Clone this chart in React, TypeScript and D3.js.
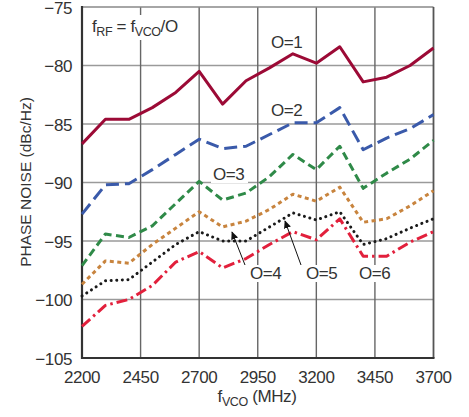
import React from "react";
import * as d3 from "d3";

const freq = [2200, 2300, 2400, 2500, 2600, 2700, 2800, 2900, 3000, 3100, 3200, 3300, 3400, 3500, 3600, 3700];
const o1 = [-86.7, -84.6, -84.6, -83.6, -82.3, -80.5, -83.3, -81.3, -80.2, -79.0, -79.8, -78.4, -81.4, -81.0, -80.0, -78.5];
const o2 = [-92.7, -90.2, -90.1, -88.9, -87.6, -86.3, -87.1, -86.9, -85.9, -84.9, -84.9, -83.6, -87.2, -86.2, -85.4, -84.2];
const o3 = [-97.1, -94.4, -94.7, -93.7, -91.8, -89.9, -91.5, -90.9, -89.5, -87.6, -88.9, -86.9, -90.5, -89.2, -88.0, -86.4];
const o4 = [-98.7, -96.7, -96.9, -95.3, -93.9, -92.5, -93.8, -93.3, -92.3, -91.0, -91.6, -90.4, -93.4, -93.1, -92.0, -90.7];
const o5 = [-99.7, -98.4, -98.3, -96.8, -95.3, -94.2, -95.0, -95.0, -93.8, -92.6, -93.2, -92.5, -95.3, -94.8, -93.9, -93.1];
const o6 = [-102.3, -100.5, -100.0, -98.8, -96.8, -95.9, -97.3, -96.5, -95.3, -94.2, -94.9, -93.1, -96.3, -96.3, -95.1, -94.2];

const xTicks = [2200, 2450, 2700, 2950, 3200, 3450, 3700];
const yTicks = [-105, -100, -95, -90, -85, -80, -75];
const seriesNames = ["O=1", "O=2", "O=3", "O=4", "O=5", "O=6"];

const W = 469, H = 417;
const FONT = "'Liberation Sans', Arial, sans-serif";
const TXT = "#333";
const FS = 17;
const LS = -0.4;

export default function App() {
  const x = d3.scaleLinear().domain([2200, 3700]).range([82, 433.5]);
  const y = d3.scaleLinear().domain([-105, -75]).range([358, 7]);
  const line = d3.line<[number, number]>().x((d) => x(d[0])).y((d) => y(d[1]));
  const mk = (vals: number[]) => line(freq.map((f, i) => [f, vals[i]] as [number, number])) || "";

  const styles = [
    { data: o1, color: "#9c0a36", dash: undefined, cap: "butt" },
    { data: o2, color: "#3a5aaa", dash: "13,6", cap: "butt" },
    { data: o3, color: "#2f8a48", dash: "8,4.5", cap: "butt" },
    { data: o4, color: "#c8843e", dash: "4,3.5", cap: "butt" },
    { data: o5, color: "#1a1a1a", dash: "0.1,5.5", cap: "round" },
    { data: o6, color: "#e2203c", dash: "11,4,2.5,4", cap: "butt" },
  ];

  const labels = [
    { t: seriesNames[0], x: 271, y: 48 },
    { t: seriesNames[1], x: 271, y: 116 },
    { t: seriesNames[2], x: 213, y: 180 },
    { t: seriesNames[3], x: 250, y: 279 },
    { t: seriesNames[4], x: 306, y: 279 },
    { t: seriesNames[5], x: 359, y: 279 },
  ];

  const arrows = [
    { x1: 245, y1: 265, x2: 232, y2: 232 },
    { x1: 301, y1: 265, x2: 285, y2: 221 },
  ];

  return (
    <svg width={W} height={H} style={{ position: "absolute", left: 0, top: 0, background: "#fff" }} fontFamily={FONT}>
      <defs>
        <marker id="ah" viewBox="0 0 10 10" refX="9" refY="5" markerWidth="8" markerHeight="9" orient="auto" markerUnits="userSpaceOnUse">
          <path d="M0,0.5 L10,5 L0,9.5 Z" fill="#111" />
        </marker>
      </defs>
      {/* grid */}
      {yTicks.slice(1, -1).map((t) => (
        <line key={"gy" + t} x1={x(2200)} x2={x(3700)} y1={y(t)} y2={y(t)} stroke="#9a9a9a" strokeWidth={1.4} />
      ))}
      {xTicks.slice(1, -1).map((t) => (
        <line key={"gx" + t} x1={x(t)} x2={x(t)} y1={y(-105)} y2={y(-75)} stroke="#666" strokeWidth={1.4} />
      ))}
      {/* frame */}
      <line x1={x(2200)} x2={x(3700)} y1={y(-75)} y2={y(-75)} stroke="#888" strokeWidth={1.5} />
      <line x1={x(3700)} x2={x(3700)} y1={y(-75)} y2={y(-105)} stroke="#555" strokeWidth={1.8} />
      <line x1={x(2200)} x2={x(2200)} y1={y(-75) - 1} y2={y(-105) + 1} stroke="#333" strokeWidth={2.2} />
      <line x1={x(2200) - 1} x2={x(3700) + 1} y1={y(-105)} y2={y(-105)} stroke="#333" strokeWidth={2.2} />

      {/* label backgrounds */}
      <rect x={89} y={15} width={94} height={25} fill="#fff" />
      {labels.map((l) => (
        <rect key={"bg" + l.t} x={l.x - 2} y={l.y - 14} width={37} height={17} fill="#fff" />
      ))}

      {/* series */}
      {styles.map((s, i) => (
        <path
          key={"s" + i}
          d={mk(s.data)}
          fill="none"
          stroke={s.color}
          strokeWidth={3}
          strokeDasharray={s.dash}
          strokeLinecap={s.cap as any}
          strokeLinejoin="round"
        />
      ))}

      {/* arrows */}
      {arrows.map((a, i) => (
        <line key={"ar" + i} x1={a.x1} y1={a.y1} x2={a.x2} y2={a.y2} stroke="#111" strokeWidth={1} markerEnd="url(#ah)" />
      ))}

      {/* labels */}
      {labels.map((l) => (
        <text key={"t" + l.t} x={l.x} y={l.y} fontSize={FS} letterSpacing={LS} fill={TXT}>
          {l.t}
        </text>
      ))}
      <text x={92} y={32} fontSize={FS} letterSpacing={LS} fill={TXT}>
        f<tspan fontSize={12.5} dy={4}>RF</tspan>
        <tspan dy={-4}> = f</tspan>
        <tspan fontSize={12.5} dy={4}>VCO</tspan>
        <tspan dy={-4}>/O</tspan>
      </text>

      {/* y tick labels */}
      {yTicks.map((t) => (
        <text key={"yl" + t} x={72} y={y(t) + 6.9} textAnchor="end" fontSize={FS} letterSpacing={LS} fill={TXT}>
          {"\u2212" + Math.abs(t)}
        </text>
      ))}
      {/* x tick labels */}
      {xTicks.map((t) => (
        <text key={"xl" + t} x={x(t)} y={383} textAnchor="middle" fontSize={FS} letterSpacing={LS} fill={TXT}>
          {t}
        </text>
      ))}
      {/* axis titles */}
      <text x={257} y={402} textAnchor="middle" fontSize={FS} letterSpacing={LS} fill={TXT}>
        f<tspan fontSize={12.5} dy={4}>VCO</tspan>
        <tspan dy={-4}> (MHz)</tspan>
      </text>
      <text transform={`translate(31,182) rotate(-90)`} textAnchor="middle" fontSize={15.5} fill={TXT}>
        PHASE NOISE (dBc/Hz)
      </text>
    </svg>
  );
}
